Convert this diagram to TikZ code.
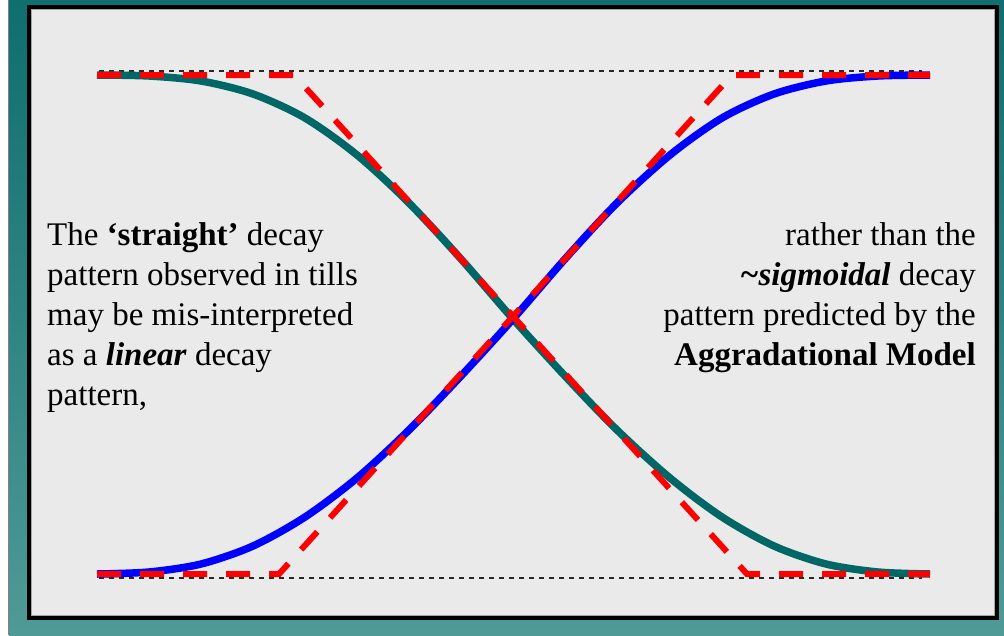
\documentclass[tikz,border=0pt]{standalone}
\usepackage{fontspec}
\setmainfont{Liberation Serif}
\definecolor{tealline}{HTML}{006666}
\definecolor{boxgray}{HTML}{EAEAEA}
\definecolor{bgtop}{HTML}{0F6E6E}
\definecolor{bgbot}{HTML}{4F9A97}
\begin{document}
\begin{tikzpicture}[x=1pt,y=-1pt,
  curve/.style={line width=7.5pt},
  reddash/.style={draw=red, line width=6pt, dash pattern=on 24pt off 19pt, line join=miter},
  guide/.style={draw=black!85, line width=1.2pt, dash pattern=on 5pt off 5pt},
  txt/.style={font=\fontsize{33}{40}\selectfont, inner sep=0pt, text=black}]
\useasboundingbox (0,0) rectangle (1004,635);
\fill[white] (0,0) rectangle (1004,635);
\shade[top color=bgtop, bottom color=bgbot] (9,0) rectangle (1004,635);
\draw[gray, line width=1pt] (8.5,0) -- (8.5,635);
\draw[black, line width=4pt, fill=boxgray] (29,7) rectangle (997,618);
\draw[gray!70, line width=1pt] (31.5,9.5) rectangle (994.5,615.5);
% guide lines
\draw[guide] (99,71) -- (922,71);
\draw[guide] (99,578) -- (922,578);
% teal sigmoid (decreasing)
\draw[curve, tealline] plot[smooth, tension=0.5] coordinates {
 (97,75) (149,76) (201,81) (253,94) (305,118) (357,155) (409,203) (461,259)
 (513,319) (565,376) (617,430) (670,478) (722,517) (774,546) (826,564) (878,572) (930,574)};
% blue sigmoid (increasing)
\draw[curve, blue] plot[smooth, tension=0.5] coordinates {
 (97,574) (149,572) (201,564) (253,546) (305,517) (357,478) (409,430) (461,376)
 (513,319) (565,259) (617,203) (670,155) (722,118) (774,94) (826,81) (878,76) (930,75)};
% red linear
\draw[reddash] (97,75) -- (294,75) -- (747,574) -- (930,574);
\draw[reddash] (97,574) -- (279,574) -- (732,75) -- (930,75);
% text
\node[txt, anchor=base west] (l1) at (47,245) {The \textbf{‘straight’} decay};
\node[txt, anchor=base west] (l2) at (47,285) {pattern observed in tills};
\node[txt, anchor=base west] (l3) at (47,325) {may be mis-interpreted};
\node[txt, anchor=base west] (l4) at (47,365) {as a \textbf{\textit{linear}} decay};
\node[txt, anchor=base west] (l5) at (47,405) {pattern,};
\node[txt, anchor=base east] (r1) at (976,245) {rather than the};
\node[txt, anchor=base east] (r2) at (976,285) {\textbf{\textit{\textasciitilde sigmoidal}} decay};
\node[txt, anchor=base east] (r3) at (976,325) {pattern predicted by the};
\node[txt, anchor=base east] (r4) at (976,365) {\textbf{Aggradational Model}};
\end{tikzpicture}
\end{document}
